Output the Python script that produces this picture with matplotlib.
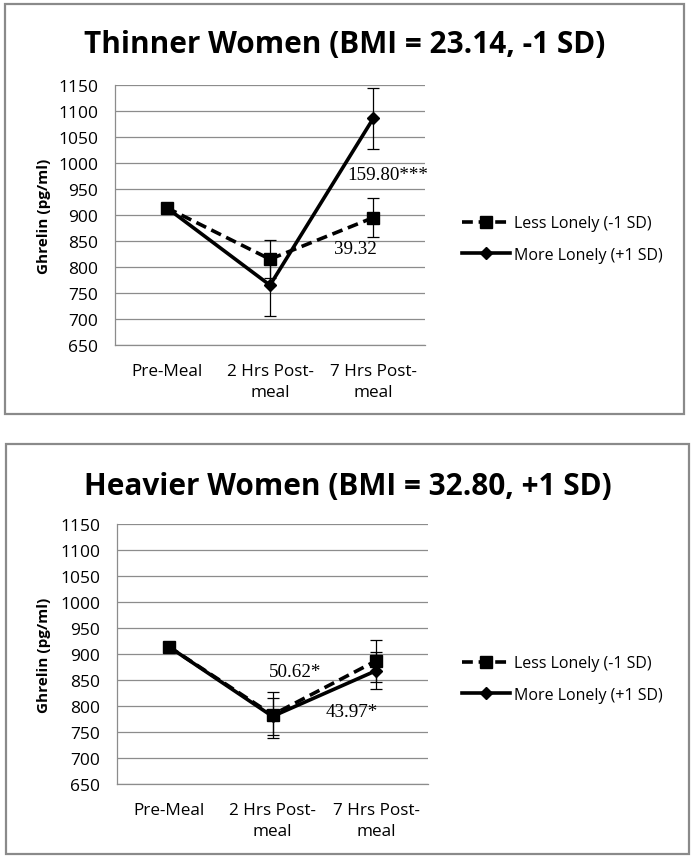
import matplotlib
matplotlib.use("Agg")
import matplotlib.pyplot as plt
from matplotlib.patches import Rectangle
from matplotlib.lines import Line2D

categories = ["Pre-Meal", "2 Hrs Post-\nmeal", "7 Hrs Post-\nmeal"]
series_names = ["Less Lonely (-1 SD)", "More Lonely (+1 SD)"]

titles = ["Thinner Women (BMI = 23.14, -1 SD)", "Heavier Women (BMI = 32.80, +1 SD)"]

# Thinner women
thin_less = [914, 815, 895]
thin_less_err = [0, 37, 37]
thin_more = [914, 765, 1086]
thin_more_err = [0, 60, 59]
thin_notes = ["39.32", "159.80***"]

# Heavier women
heavy_less = [914, 783, 887]
heavy_less_err = [0, 44, 40]
heavy_more = [914, 780, 868]
heavy_more_err = [0, 35, 35]
heavy_notes = ["50.62*", "43.97*"]

yticks = [650, 700, 750, 800, 850, 900, 950, 1000, 1050, 1100, 1150]

W, H = 695, 862
fig = plt.figure(figsize=(W / 100, H / 100), dpi=100)
sans = ["Open Sans", "DejaVu Sans"]
serif = ["Liberation Serif", "DejaVu Serif"]


def fx(px):
    return px / W


def fy(py):
    return 1 - py / H


panels = [
    dict(box=(5, 5, 684, 415), ax=(115, 86, 425, 346), title_y=45,
         less=thin_less, less_err=thin_less_err, more=thin_more, more_err=thin_more_err,
         notes=thin_notes, note_pos=[(2, 835, "center", "center", -0.17), (2, 978, "left", "center", -0.25)],
         legend_y=240),
    dict(box=(6, 445, 689, 855), ax=(117, 525, 428, 785), title_y=487,
         less=heavy_less, less_err=heavy_less_err, more=heavy_more, more_err=heavy_more_err,
         notes=heavy_notes, note_pos=[(1, 867, "center", "center", 0.22), (2, 790, "center", "center", -0.24)],
         legend_y=680),
]

for i, p in enumerate(panels):
    x0, y0, x1, y1 = p["box"]
    fig.patches.append(Rectangle((fx(x0), fy(y1)), fx(x1 - x0), (y1 - y0) / H,
                                 transform=fig.transFigure, fill=False,
                                 edgecolor="#8a8a8a", linewidth=1.6))
    fig.text(fx((x0 + x1) / 2), fy(p["title_y"]), titles[i], ha="center", va="center",
             fontsize=21.4, fontweight="bold", family=sans)

    ax0, ay0, ax1, ay1 = p["ax"]
    ax = fig.add_axes([fx(ax0), fy(ay1), fx(ax1 - ax0), (ay1 - ay0) / H])
    xs = list(range(len(categories)))
    ax.set_xlim(-0.5, len(categories) - 0.5)
    ax.set_ylim(650, 1150)
    ax.set_yticks(yticks)
    ax.set_yticklabels([str(t) for t in yticks], family=sans, fontsize=12.5)
    ax.set_xticks(xs)
    ax.set_xticklabels(categories, family=sans, fontsize=12.3, linespacing=1.45)
    ax.tick_params(length=0)
    ax.tick_params(axis="y", pad=12)
    ax.tick_params(axis="x", pad=13)
    ax.grid(axis="y", color="#8c8c8c", linewidth=0.9)
    ax.set_axisbelow(True)
    for s in ["top", "right"]:
        ax.spines[s].set_visible(False)
    for s in ["left", "bottom"]:
        ax.spines[s].set_color("#8c8c8c")
        ax.spines[s].set_linewidth(0.9)
    ax.set_ylabel("Ghrelin (pg/ml)", family=sans, fontweight="bold", fontsize=11)
    ax.yaxis.set_label_coords(-(ax0 - 51) / (ax1 - ax0), 0.5)

    ax.errorbar(xs, p["more"], yerr=p["more_err"], color="black", linewidth=2.6,
                marker="D", markersize=6.5, capsize=4.5, elinewidth=0.9, capthick=0.9, zorder=3)
    ax.errorbar(xs, p["less"], yerr=p["less_err"], color="black", linewidth=2.6,
                linestyle=(0, (3, 1.6)), marker="s", markersize=8.5, capsize=4.5,
                elinewidth=0.9, capthick=0.9, zorder=4)

    for note, (cx, cy, ha, va, dx) in zip(p["notes"], p["note_pos"]):
        ax.text(cx + dx, cy, note, ha=ha, va=va, family=serif, fontsize=13.7, clip_on=False)

    handles = [Line2D([], [], color="black", linewidth=2.6, linestyle=(0, (3, 1.6)),
                      marker="s", markersize=8.5),
               Line2D([], [], color="black", linewidth=2.6, marker="D", markersize=6.5)]
    fig.legend(handles, series_names, loc="center left",
               bbox_to_anchor=(fx(448), fy(p["legend_y"])), frameon=False,
               prop={"family": sans, "size": 11.5}, handlelength=3.0, handletextpad=0.25,
               labelspacing=0.95)

fig.savefig("out.png", dpi=100, facecolor="white")
